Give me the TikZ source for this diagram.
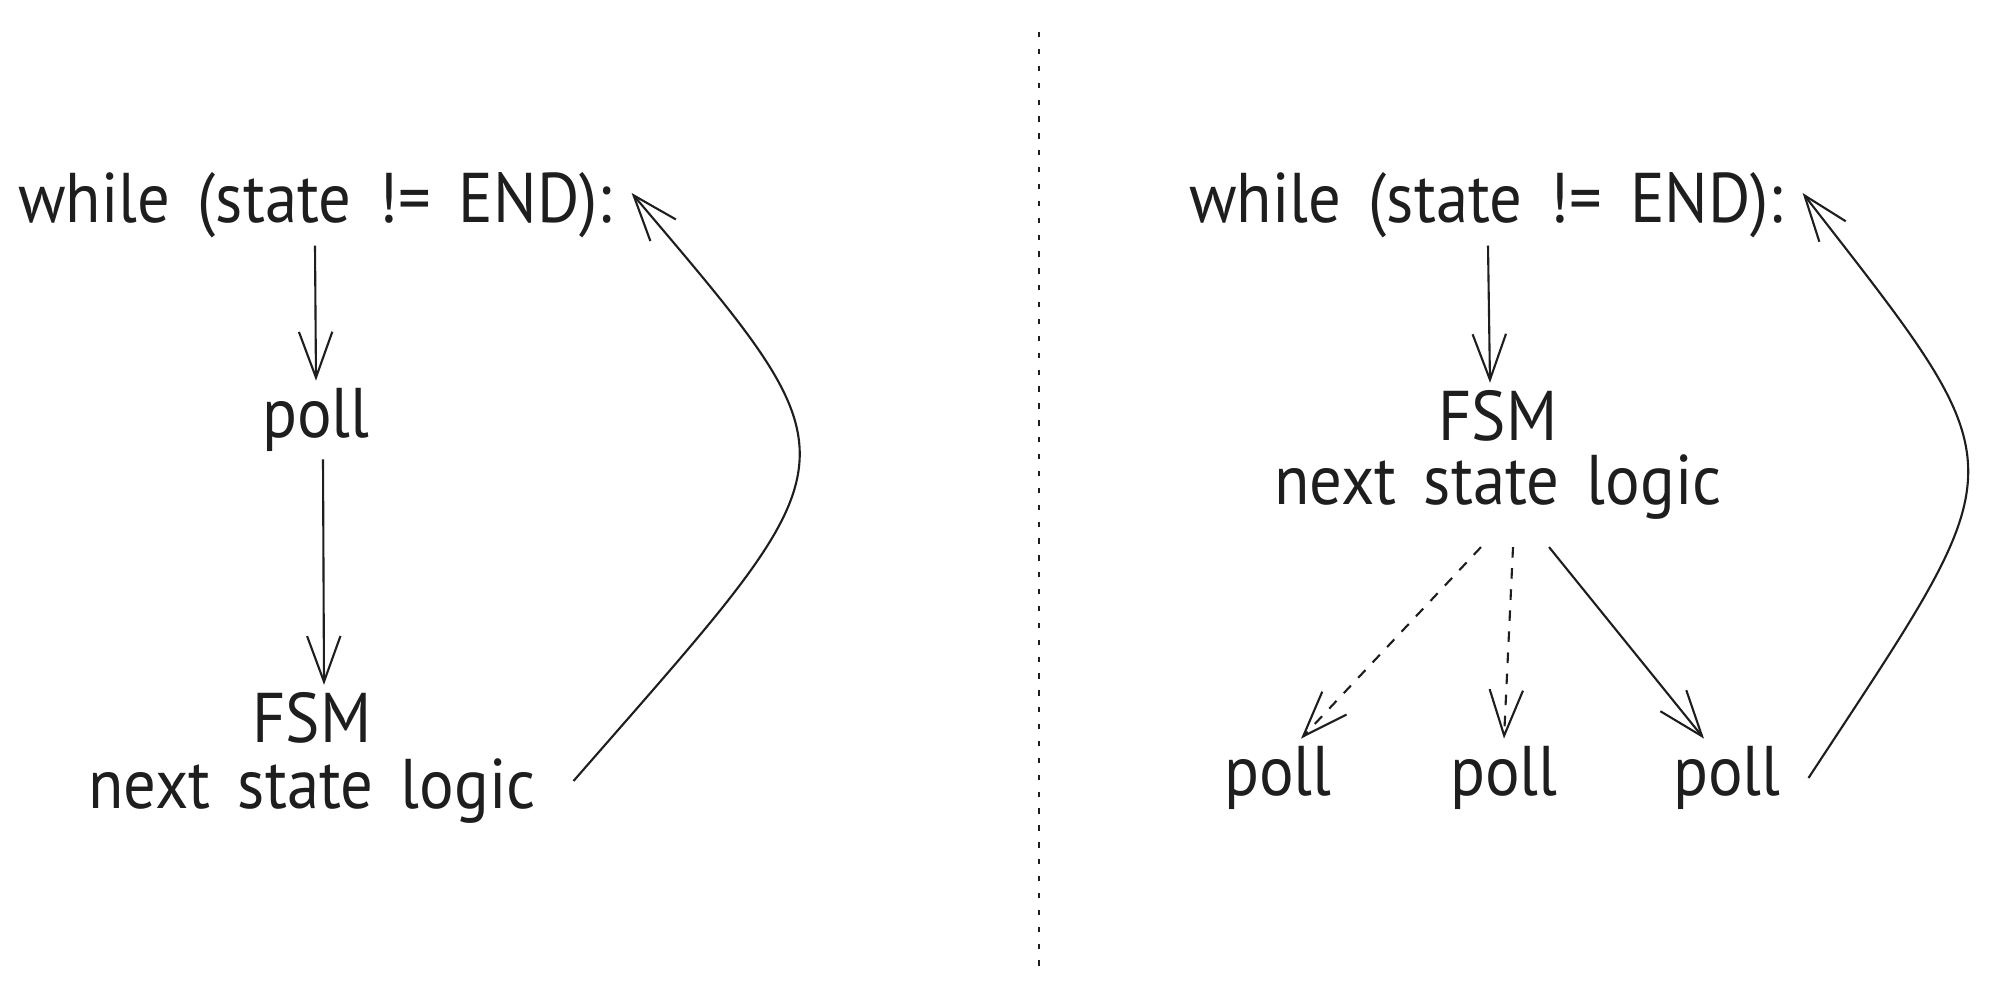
\documentclass[tikz,border=0pt]{standalone}
\usepackage{fontspec}
\setmainfont{PT Sans}[FakeStretch=0.92, WordSpace=1.6]
\usepackage{tikz}
\usepackage{xcolor}
\usetikzlibrary{arrows.meta}
\definecolor{ink}{HTML}{1E1E1E}
\tikzset{
    hand-text/.style = {text=ink, inner sep=2pt, font=\fontsize{20}{24}\selectfont},
    flow-arrow/.style = {draw=ink, line width=0.6pt, -{Straight Barb[length=13pt, width=9.5pt]}},
    divider/.style = {draw=ink, line width=0.8pt, dash pattern=on 1.5pt off 3.3pt},
}

\begin{document}
\begin{tikzpicture}[x=0.01cm, y=-0.01cm]
\useasboundingbox (0,0) rectangle (1994,991);

% left: poll then FSM
\node [hand-text] (whileL) at (315,205) {while (state != END):};
\node [hand-text] (pollL) at (316,420) {poll};
\node [hand-text] (fsmL) at (312,718) {FSM};
\node [hand-text] (nslL) at (312,791) {next state logic};

\draw [flow-arrow] (whileL.south) -- (pollL.north);
\draw [flow-arrow] ([xshift=0.07cm]pollL.south) -- ([xshift=0.12cm]fsmL.north);
\draw [flow-arrow] ([xshift=0.3cm,yshift=0.1cm]nslL.east) .. controls (862,450) and (866,470) .. ([xshift=0.12cm,yshift=0.12cm]whileL.east);

% divider
\coordinate (divTop) at (1039,32);
\coordinate (divBot) at (1039,973);
\draw [divider] (divTop) -- (divBot);

% right: FSM then several polls
\node [hand-text] (whileR) at (1486,205) {while (state != END):};
\node [hand-text] (fsmR) at (1498,416) {FSM};
\node [hand-text] (nslR) at (1498,487) {next state logic};
\node [hand-text] (pollA) at (1278,778) {poll};
\node [hand-text] (pollB) at (1504,778) {poll};
\node [hand-text] (pollC) at (1727,778) {poll};

\draw [flow-arrow] ([xshift=0.02cm]whileR.south) -- ([xshift=-0.08cm]fsmR.north);
\draw [flow-arrow, dashed] ([xshift=-0.17cm,yshift=-0.2cm]nslR.south) -- ([xshift=0.23cm]pollA.north);
\draw [flow-arrow, dashed] ([xshift=0.15cm,yshift=-0.2cm]nslR.south) -- ([xshift=0.0cm]pollB.north);
\draw [flow-arrow] ([xshift=0.51cm,yshift=-0.2cm]nslR.south) -- ([xshift=-0.23cm]pollC.north);
\draw [flow-arrow] ([xshift=0.2cm]pollC.east) .. controls (2020,455) and (2024,478) .. ([xshift=0.12cm,yshift=0.12cm]whileR.east);
\end{tikzpicture}
\end{document}
